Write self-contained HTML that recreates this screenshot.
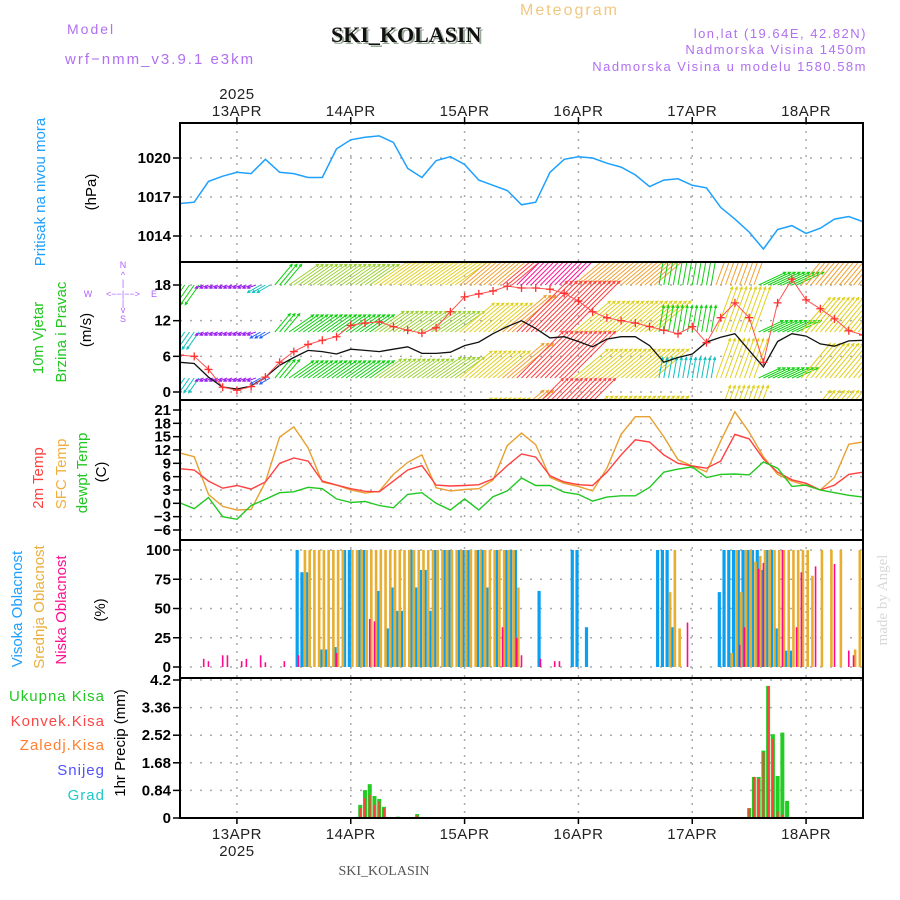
<!DOCTYPE html>
<html><head><meta charset="utf-8"><title>Meteogram SKI_KOLASIN</title>
<style>
html,body{margin:0;padding:0;background:#fff;}
svg{display:block;}
text{font-family:"Liberation Sans",sans-serif;}
.serif{font-family:"Liberation Serif",serif;}
</style></head>
<body>
<svg id="chart" width="900" height="900" viewBox="0 0 900 900" xmlns="http://www.w3.org/2000/svg">
<defs>
<clipPath id="clipWind"><rect x="180" y="263" width="683" height="136"/></clipPath>
</defs>
<g>
<text x="67" y="34" fill="#b070f0" font-size="14" letter-spacing="2">Model</text>
<text x="65" y="64" fill="#b070f0" font-size="15" letter-spacing="2">wrf−nmm_v3.9.1 e3km</text>
<text x="333" y="44" class="serif" fill="#99aa99" font-size="22" font-weight="bold">SKI_KOLASIN</text>
<text x="331" y="42" class="serif" fill="#111" font-size="22" font-weight="bold">SKI_KOLASIN</text>
<text x="520" y="15" fill="#f0c880" font-size="16" letter-spacing="2">Meteogram</text>
<text x="867" y="38" fill="#b070f0" font-size="13" text-anchor="end" letter-spacing="1.5">lon,lat (19.64E, 42.82N)</text>
<text x="867" y="54" fill="#b070f0" font-size="13" text-anchor="end" letter-spacing="1.5">Nadmorska Visina 1450m</text>
<text x="867" y="71" fill="#b070f0" font-size="13" text-anchor="end" letter-spacing="1.5">Nadmorska Visina u modelu 1580.58m</text>
</g>
<g>
<text transform="translate(45,192) rotate(-90)" fill="#1ea0ff" font-size="15" text-anchor="middle">Pritisak na nivou mora</text>
<text transform="translate(96,192) rotate(-90)" fill="#000" font-size="15" text-anchor="middle">(hPa)</text>
<text transform="translate(43,338) rotate(-90)" fill="#22c822" font-size="15" text-anchor="middle">10m Vjetar</text>
<text transform="translate(66,332) rotate(-90)" fill="#22c822" font-size="15" text-anchor="middle">Brzina i Pravac</text>
<text transform="translate(91,330) rotate(-90)" fill="#000" font-size="15" text-anchor="middle">(m/s)</text>
<g fill="#b060ff" font-size="9" text-anchor="middle">
<text x="123" y="268">N</text><text x="123" y="278">^</text><text x="123" y="286">|</text>
<text x="88" y="297">W</text><text x="123" y="297">&lt;−−|−−&gt;</text><text x="154" y="297">E</text>
<text x="123" y="306">|</text><text x="123" y="313">v</text><text x="123" y="322">S</text>
</g>
<text transform="translate(43,478) rotate(-90)" fill="#ff4040" font-size="15" text-anchor="middle">2m Temp</text>
<text transform="translate(66,474) rotate(-90)" fill="#f0b040" font-size="15" text-anchor="middle">SFC Temp</text>
<text transform="translate(87,473) rotate(-90)" fill="#22c822" font-size="15" text-anchor="middle">dewpt Temp</text>
<text transform="translate(106,472) rotate(-90)" fill="#000" font-size="15" text-anchor="middle">(C)</text>
<text transform="translate(22,609) rotate(-90)" fill="#1ea0ff" font-size="15" text-anchor="middle">Visoka Oblacnost</text>
<text transform="translate(44,607) rotate(-90)" fill="#e8b040" font-size="15" text-anchor="middle">Srednja Oblacnost</text>
<text transform="translate(66,610) rotate(-90)" fill="#ff1090" font-size="15" text-anchor="middle">Niska Oblacnost</text>
<text transform="translate(105,610) rotate(-90)" fill="#000" font-size="15" text-anchor="middle">(%)</text>
<text x="105" y="701" fill="#22c822" font-size="15" text-anchor="end" letter-spacing="1">Ukupna  Kisa</text>
<text x="105" y="726" fill="#ff4444" font-size="15" text-anchor="end" letter-spacing="1">Konvek.Kisa</text>
<text x="105" y="750" fill="#ff7f30" font-size="15" text-anchor="end" letter-spacing="1">Zaledj.Kisa</text>
<text x="105" y="775" fill="#5050ff" font-size="15" text-anchor="end" letter-spacing="1">Snijeg</text>
<text x="105" y="800" fill="#20c8c8" font-size="15" text-anchor="end" letter-spacing="1">Grad</text>
<text transform="translate(125,743) rotate(-90)" fill="#000" font-size="15" text-anchor="middle">1hr Precip (mm)</text>
<text transform="translate(887,600) rotate(-90)" class="serif" fill="#d8d8d8" font-size="15" text-anchor="middle">made by Angel</text>
<text x="384" y="875" class="serif" fill="#555" font-size="14" text-anchor="middle">SKI_KOLASIN</text>
</g>
<g id="grid"></g>
<g id="marks"></g>
<g id="axes"></g>
</svg>
<script>
// ---- data (3-hourly, hours from 12APR 12Z) ----
const hours3 = [0,3,6,9,12,15,18,21,24,27,30,33,36,39,42,45,48,51,54,57,60,63,66,69,72,75,78,81,84,87,90,93,96,99,102,105,108,111,114,117,120,123,126,129,132,135,138,141,144];
const pressure = [1016.5,1016.6,1018.2,1018.6,1018.9,1018.8,1019.9,1018.9,1018.8,1018.5,1018.5,1020.7,1021.4,1021.6,1021.7,1021.2,1019.2,1018.5,1019.8,1020.1,1019.5,1018.3,1017.9,1017.5,1016.4,1016.6,1018.9,1019.9,1020.1,1020.0,1019.6,1019.3,1018.7,1017.8,1018.3,1018.4,1017.9,1017.7,1016.2,1015.3,1014.3,1013.0,1014.5,1014.8,1014.2,1014.6,1015.3,1015.5,1015.1];
const windSpeed = [5,4.8,2.5,0.8,0.5,1,2.5,4.5,5.8,7,6.8,6.4,7.2,7,6.8,7.2,7.6,6.5,6.5,6.7,7.8,8.4,9.8,11,12,10.7,9.1,9.3,8.5,7.6,8.9,9.3,9.3,7.8,5,5.8,6.4,8.4,9.2,9.8,7,4.2,8.5,9.8,9.4,8.1,7.7,8.6,8.7];
const windGust = [6.2,6,3.8,0.8,0.3,0.9,2.5,5,6.8,8,8.7,9.3,11.2,11.6,11.8,11,10.4,9.9,10.8,13.5,16,16.5,17,17.8,17.5,17.5,17.3,16.6,15.3,13.5,12.5,12,11.6,11,10.4,9.8,11,8.3,12.5,15,12.5,5,15,19,15.5,14,12.3,10.3,9.6];
const windDir = [215,215,250,250,250,250,240,40,55,55,55,55,55,55,55,55,55,55,55,55,50,50,50,50,45,45,45,45,50,50,50,50,50,50,10,10,10,10,20,20,20,65,65,65,40,40,40,40,40];
const lvl1Speed = [8,8,3,3,3,3,5,9,12,12,12,12,12,12,14,14,14,14,14,14,18,18,18,22,26,26,26,26,18,18,18,18,18,18,9,9,9,9,17,17,17,10,10,10,17,17,17,17,17];
const lvl2Speed = [7,7,3,3,3,3,4,8,10,10,10,10,10,10,12,12,12,12,12,12,15,15,15,19,24,24,24,24,16,16,16,16,16,16,9,9,9,9,16,16,16,9,9,9,15,15,15,15,15];
const lvl3Speed = [6,6,3,3,3,3,4,8,10,10,10,10,10,10,11,11,11,11,12,12,14,14,14,18,22,22,22,22,15,15,15,15,15,15,7,7,7,7,14,14,14,8,8,8,15,15,15,15,15];
const temp2m = [7.8,7.5,5,3.4,4,3.2,4.8,9,10.2,9.5,5,4.1,3.3,2.7,2.6,5,7.5,8.5,4.1,3.9,4,4.2,5.5,8.5,11.1,10.4,6.2,4.8,4.2,4,7,10.9,14.3,13.8,10.9,9,8.4,7.9,9.5,15.5,14.5,10,7,5.3,4.5,3,4.1,6.5,7];
const tempSfc = [11.3,10.5,2,-0.7,-1.5,-1.4,4.8,14.9,17.2,12.5,4.8,4.1,3,2.3,2.7,6.5,9.2,10.9,3.5,2.8,3.1,3.3,5.2,13,15.8,13.2,5.8,4.5,3.8,2.8,7.9,15.5,19.5,19.5,15,9.8,8.4,7.1,14,20.6,16,10.5,6.5,5,4,3,5.8,13.3,13.8];
const dewpt = [0.1,-1.2,1.3,-3,-3.6,-0.5,0.9,2.4,2.6,3.6,3.3,1,0.2,0.4,-0.5,-1,2,2.4,0,-1.5,1,-1.5,1.5,2.8,5.7,4,4,2.5,2,0.5,1.4,1.7,1.7,3.6,7,7.7,8.2,5.8,6.5,6.6,6.4,9.3,7.9,3.8,4.1,3,2.4,1.8,1.4];
// cloud cover (hourly, sparse: hour / percent)
const highCloudHours = [25,26,27,30,31,33,35,36,38,39,42,44,45,46,47,49,50,51,52,53,54,56,57,59,60,61,63,64,65,67,69,70,71,76,83,84,86,101,102,103,104,114,115,116,117,118,119,120,121,122,123,124,125,126,128,129];
const highCloudVals = [100,81,81,15,15,17,100,100,100,100,65,33,68,48,48,100,68,83,83,48,100,100,100,100,100,100,100,100,68,100,100,100,100,65,100,100,34,100,100,100,34,64,100,100,100,100,100,100,100,100,83,100,100,33,14,14];
const midCloudHours = [26,27,28,29,30,31,32,33,34,36,37,38,39,40,41,42,43,44,45,46,47,48,49,50,51,52,53,54,55,56,57,58,59,60,61,62,63,64,65,66,67,68,69,70,71,103,104,105,116,117,118,119,120,121,122,123,124,125,126,127,128,129,130,131,132,133,135,137,139,142,143];
const midCloudVals = [100,100,100,100,100,100,100,100,100,100,100,100,100,100,100,100,100,100,100,100,100,100,100,100,100,100,100,100,100,100,100,100,100,100,100,100,100,100,100,100,100,100,100,100,68,64,100,33,12,100,64,100,100,90,95,100,100,100,100,100,100,100,100,100,100,78,100,100,100,15,100];
const lowCloudHours = [5,6,9,10,13,14,17,18,22,25,33,40,41,68,71,72,76,79,80,107,118,119,122,123,127,130,131,134,138,141,142];
const lowCloudVals = [7,5,10,10,5,7,10,4,5,10,12,41,39,34,25,10,7,5,5,38,19,34,84,89,100,34,81,86,88,14,10];
// precipitation (hourly, sparse)
const precipHours = [38,39,40,41,42,43,46,50,117,120,121,122,123,124,125,126,127,128];
const precipTotal = [0.4,0.85,1.03,0.67,0.58,0.34,0.04,0.12,0.02,0.3,1.25,1.25,2.05,4.02,2.55,1.28,2.6,0.52];
const precipConv = [0.3,0.6,0.7,0.4,0.5,0.3,0.02,0.08,0.01,0.3,1.25,1.2,2.0,4.02,2.4,0.2,0.1,0];
// tick labels
const dateTicks = [12,36,60,84,108,132];
const dateLabels = ["13APR","14APR","15APR","16APR","17APR","18APR"];
const pressTicks = [1014,1017,1020];
const windTicks = [0,6,12,18];
const tempTicks = [-6,-3,0,3,6,9,12,15,18,21];
const cloudTicks = [0,25,50,75,100];
const precipTicks = [0,0.84,1.68,2.52,3.36,4.2];

// ---- scales ----
const X = h => 180 + h*683/144;
const YP = v => 158 + (1020 - v)*13;
const YW = v => 392 - v*5.944;
const YT = v => 410 + (21 - v)*4.444;
const YC = v => 667 - v*1.17;
const YR = v => 818 - v*32.857;

const NS = "http://www.w3.org/2000/svg";
function mk(parent, tag, attrs){
  const e = document.createElementNS(NS, tag);
  for (const k in attrs) e.setAttribute(k, attrs[k]);
  parent.appendChild(e);
  return e;
}
const grid = document.getElementById('grid');
const marks = document.getElementById('marks');
const axes = document.getElementById('axes');

dateTicks.forEach(h => {
  const l = mk(grid,'line',{x1:X(h),x2:X(h),y1:123,y2:818,stroke:'#aaa','stroke-width':1.5,'stroke-dasharray':'2,6'});
  
  
});
function hgrid(ticks, Y, name){
  ticks.forEach(v => {
    const l = mk(grid,'line',{x1:180,x2:863,y1:Y(v),y2:Y(v),stroke:'#aaa','stroke-width':1.5,'stroke-dasharray':'2,8'});
    
    
  });
}
hgrid(pressTicks, YP, 'pressure-gridline');
hgrid(windTicks, YW, 'wind-gridline');
hgrid(tempTicks, YT, 'temp-gridline');
hgrid(cloudTicks, YC, 'cloud-gridline');
hgrid(precipTicks, YR, 'precip-gridline');

function linePath(vals, Y){
  return vals.map((v,i) => (i?'L':'M') + X(hours3[i]).toFixed(1) + ',' + Y(v).toFixed(1)).join(' ');
}

const pLine = mk(marks,'path',{d:linePath(pressure,YP),fill:'none',stroke:'#1ea0ff','stroke-width':1.5});



function windColor(s){
  if (s < 3.5) return '#9a20f0';
  if (s < 5) return '#2060ff';
  if (s < 7.5) return '#10c0c0';
  if (s < 11) return '#10d010';
  if (s < 13) return '#9ad030';
  if (s < 16.5) return '#e0d020';
  if (s < 20) return '#f0a030';
  if (s < 25) return '#ff4040';
  return '#ff1493';
}
const windG = mk(marks,'g',{'clip-path':'url(#clipWind)'});


const levels = [[lvl1Speed,285],[lvl2Speed,332],[lvl3Speed,378],[lvl3Speed,425]];
levels.forEach(([spd, base]) => {
  spd.forEach((s,i) => {
    const d = windDir[i]*Math.PI/180;
    const len = s*3;
    const dx = Math.sin(d)*len, dy = -Math.cos(d)*len;
    const col = windColor(s);
    [-1,0,1].forEach(k => {
      const x0 = X(hours3[i]+k);
      if (x0 < 180 || x0 > 863) return;
      const x1 = x0+dx, y1 = base+dy;
      const a = Math.atan2(dy,dx);
      const hl = 3;
      const p = `M${x0.toFixed(1)},${base} L${x1.toFixed(1)},${y1.toFixed(1)} M${(x1-hl*Math.cos(a-0.45)).toFixed(1)},${(y1-hl*Math.sin(a-0.45)).toFixed(1)} L${x1.toFixed(1)},${y1.toFixed(1)} L${(x1-hl*Math.cos(a+0.45)).toFixed(1)},${(y1-hl*Math.sin(a+0.45)).toFixed(1)}`;
      const ar = mk(windG,'path',{d:p,stroke:col,'stroke-width':1,fill:'none'});
      
      
    });
  });
});
const sLine = mk(marks,'path',{d:linePath(windSpeed,YW),fill:'none',stroke:'#111','stroke-width':1.3,'clip-path':'url(#clipWind)'});


const gLine = mk(marks,'path',{d:linePath(windGust,YW),fill:'none',stroke:'#ff5050','stroke-width':1,'clip-path':'url(#clipWind)'});


windGust.forEach((v,i) => {
  const x = X(hours3[i]), y = YW(v);
  const m = mk(marks,'path',{d:`M${x-4},${y} L${x+4},${y} M${x},${y-4} L${x},${y+4}`,stroke:'#ff3030','stroke-width':1.3,'clip-path':'url(#clipWind)'});
  
  
});

[[tempSfc,'#e8a030','sfc-temp-line'],[temp2m,'#ff4040','temp2m-line'],[dewpt,'#22c822','dewpt-line']].forEach(([vals,col,name]) => {
  const l = mk(marks,'path',{d:linePath(vals,YT),fill:'none',stroke:col,'stroke-width':1.4});
  
  
});

highCloudHours.forEach((h,i) => {
  const r = mk(marks,'rect',{x:X(h)-3,y:YC(highCloudVals[i]),width:3.2,height:YC(0)-YC(highCloudVals[i]),fill:'#0aa0f0'});
  
  
});
midCloudHours.forEach((h,i) => {
  const r = mk(marks,'rect',{x:X(h)+0.3,y:YC(midCloudVals[i]),width:2.6,height:YC(0)-YC(midCloudVals[i]),fill:'#e8ae30'});
  
  
});
lowCloudHours.forEach((h,i) => {
  const r = mk(marks,'rect',{x:X(h)-0.8,y:YC(lowCloudVals[i]),width:1.6,height:YC(0)-YC(lowCloudVals[i]),fill:'#ff0a8c'});
  
  
});

precipHours.forEach((h,i) => {
  const g = mk(marks,'rect',{x:X(h)-2,y:YR(precipTotal[i]),width:4,height:YR(0)-YR(precipTotal[i]),fill:'#22cc22'});
  
  
  const r = mk(marks,'rect',{x:X(h)-1,y:YR(precipConv[i]),width:2,height:YR(0)-YR(precipConv[i]),fill:'#ff4040'});
  
  
});

[[123,262],[262,400],[400,540],[540,678],[678,818]].forEach(([t,b]) => {
  const f = mk(axes,'rect',{x:180,y:t,width:683,height:b-t,fill:'none',stroke:'#000','stroke-width':2});
  
  
});
function yAxis(ticks, Y, fmt, name){
  ticks.forEach(v => {
    const t = mk(axes,'line',{x1:173,x2:180,y1:Y(v),y2:Y(v),stroke:'#000','stroke-width':1.5});
    
    
    const l = mk(axes,'text',{x:171,y:Y(v)+5,'text-anchor':'end','font-size':15,'font-weight':'bold',fill:'#000'});
    l.textContent = fmt(v);
    
    
  });
}
yAxis(pressTicks, YP, v=>String(v), 'pressure');
yAxis(windTicks, YW, v=>String(v), 'wind');
yAxis(tempTicks, YT, v=>v<0?'−'+(-v):String(v), 'temp');
yAxis(cloudTicks, YC, v=>String(v), 'cloud');
yAxis(precipTicks, YR, v=>String(v), 'precip');

dateTicks.forEach((h,i) => {
  [[117,123],[818,824]].forEach(([a,b]) => {
    const t = mk(axes,'line',{x1:X(h),x2:X(h),y1:a,y2:b,stroke:'#000','stroke-width':1.5});
    
    
  });
  [116,839].forEach(y => {
    const l = mk(axes,'text',{x:X(h),y:y,'text-anchor':'middle','font-size':15,fill:'#222','letter-spacing':'0.5'});
    l.textContent = dateLabels[i];
    
    
  });
});
[99,856].forEach(y => {
  const l = mk(axes,'text',{x:X(dateTicks[0]),y:y,'text-anchor':'middle','font-size':15,fill:'#222','letter-spacing':'0.5'});
  l.textContent = '2025';
  
  
});
</script>
</body></html>
